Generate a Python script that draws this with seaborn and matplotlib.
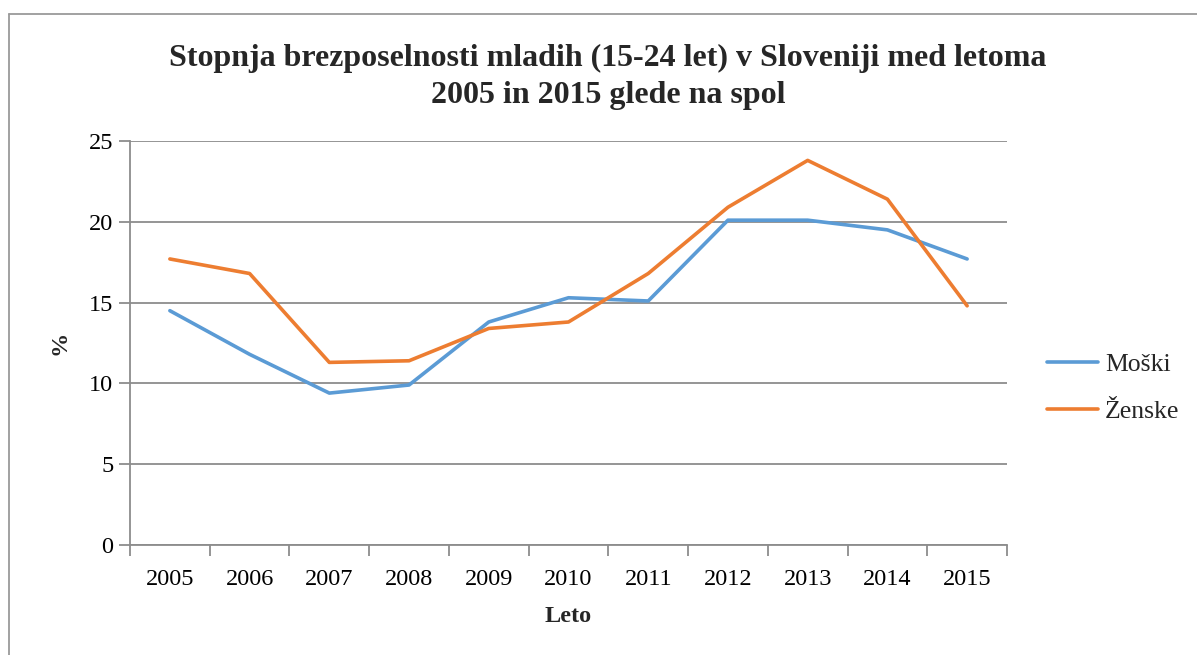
import matplotlib
matplotlib.use("Agg")
import matplotlib.pyplot as plt
import seaborn as sns
import pandas as pd
from matplotlib.lines import Line2D
from matplotlib.ticker import FixedLocator

years = ["2005", "2006", "2007", "2008", "2009", "2010", "2011", "2012", "2013", "2014", "2015"]
moski = [14.5, 11.8, 9.4, 9.9, 13.8, 15.3, 15.1, 20.1, 20.1, 19.5, 17.7]
zenske = [17.7, 16.8, 11.3, 11.4, 13.4, 13.8, 16.8, 20.9, 23.8, 21.4, 14.8]
series_names = ["Moški", "Ženske"]
title = "Stopnja brezposelnosti mladih (15-24 let) v Sloveniji med letoma\n2005 in 2015 glede na spol"

sns.set_theme(style="white")
plt.rcParams["font.family"] = ["Liberation Serif", "DejaVu Serif"]

df = pd.DataFrame({
    "Leto": years * 2,
    "val": moski + zenske,
    "spol": [series_names[0]] * len(years) + [series_names[1]] * len(years),
})

fig = plt.figure(figsize=(11.97, 6.55), dpi=100)
ax = fig.add_axes([130/1197, 1-545/655, (1007-130)/1197, (545-141)/655])

palette = {"Moški": "#5B9BD5", "Ženske": "#ED7D31"}
sns.lineplot(data=df, x="Leto", y="val", hue="spol", palette=palette,
             linewidth=2.6, ax=ax, sort=False, legend=False)

grid_c = "#8C8C8C"
fs = 17.5
ax.set_xlim(-0.5, len(years) - 0.5)
ax.set_ylim(0, 25)
ax.set_yticks([0, 5, 10, 15, 20, 25])
ax.yaxis.grid(True, color=grid_c, linewidth=1.3)
ax.xaxis.grid(False)
ax.set_xticks(range(len(years)))
ax.set_xticklabels(years)
ax.xaxis.set_minor_locator(FixedLocator([i - 0.5 for i in range(len(years) + 1)]))
ax.tick_params(axis="x", which="major", length=0, labelsize=fs, pad=17, colors="black")
ax.tick_params(axis="x", which="minor", length=8, width=1.3, color=grid_c, direction="out", bottom=True)
ax.tick_params(axis="y", which="major", length=8, width=1.3, color=grid_c, direction="out",
               left=True, labelsize=fs, pad=4, labelcolor="black")
for s in ["top", "right"]:
    ax.spines[s].set_visible(False)
for s in ["left", "bottom"]:
    ax.spines[s].set_color(grid_c)
    ax.spines[s].set_linewidth(1.3)

ax.set_xlabel("Leto", fontsize=fs, fontweight="bold", labelpad=12)
ax.set_ylabel("%", fontsize=fs, fontweight="bold", labelpad=13)

fig.text(608/1197, 1-77/655, title, ha="center", va="center", fontsize=23,
         fontweight="bold", linespacing=1.4)

handles = [Line2D([0], [0], color=palette[n], lw=2.6) for n in series_names]
leg = fig.legend(handles, series_names, loc="center left",
                 bbox_to_anchor=(1047/1197, 1-388/655), frameon=False,
                 borderpad=0, borderaxespad=0,
                 fontsize=18.5, handlelength=2.0, handletextpad=0.25, labelspacing=0.9)

# outer chart border (left and top visible)
fig.add_artist(Line2D([9/1197, 9/1197], [0, 1-14/655], transform=fig.transFigure,
                      color="#9A9A9A", lw=1.3))
fig.add_artist(Line2D([9/1197, 1], [1-14/655, 1-14/655], transform=fig.transFigure,
                      color="#9A9A9A", lw=1.3))

fig.savefig("out.png", dpi=100, facecolor="white")
